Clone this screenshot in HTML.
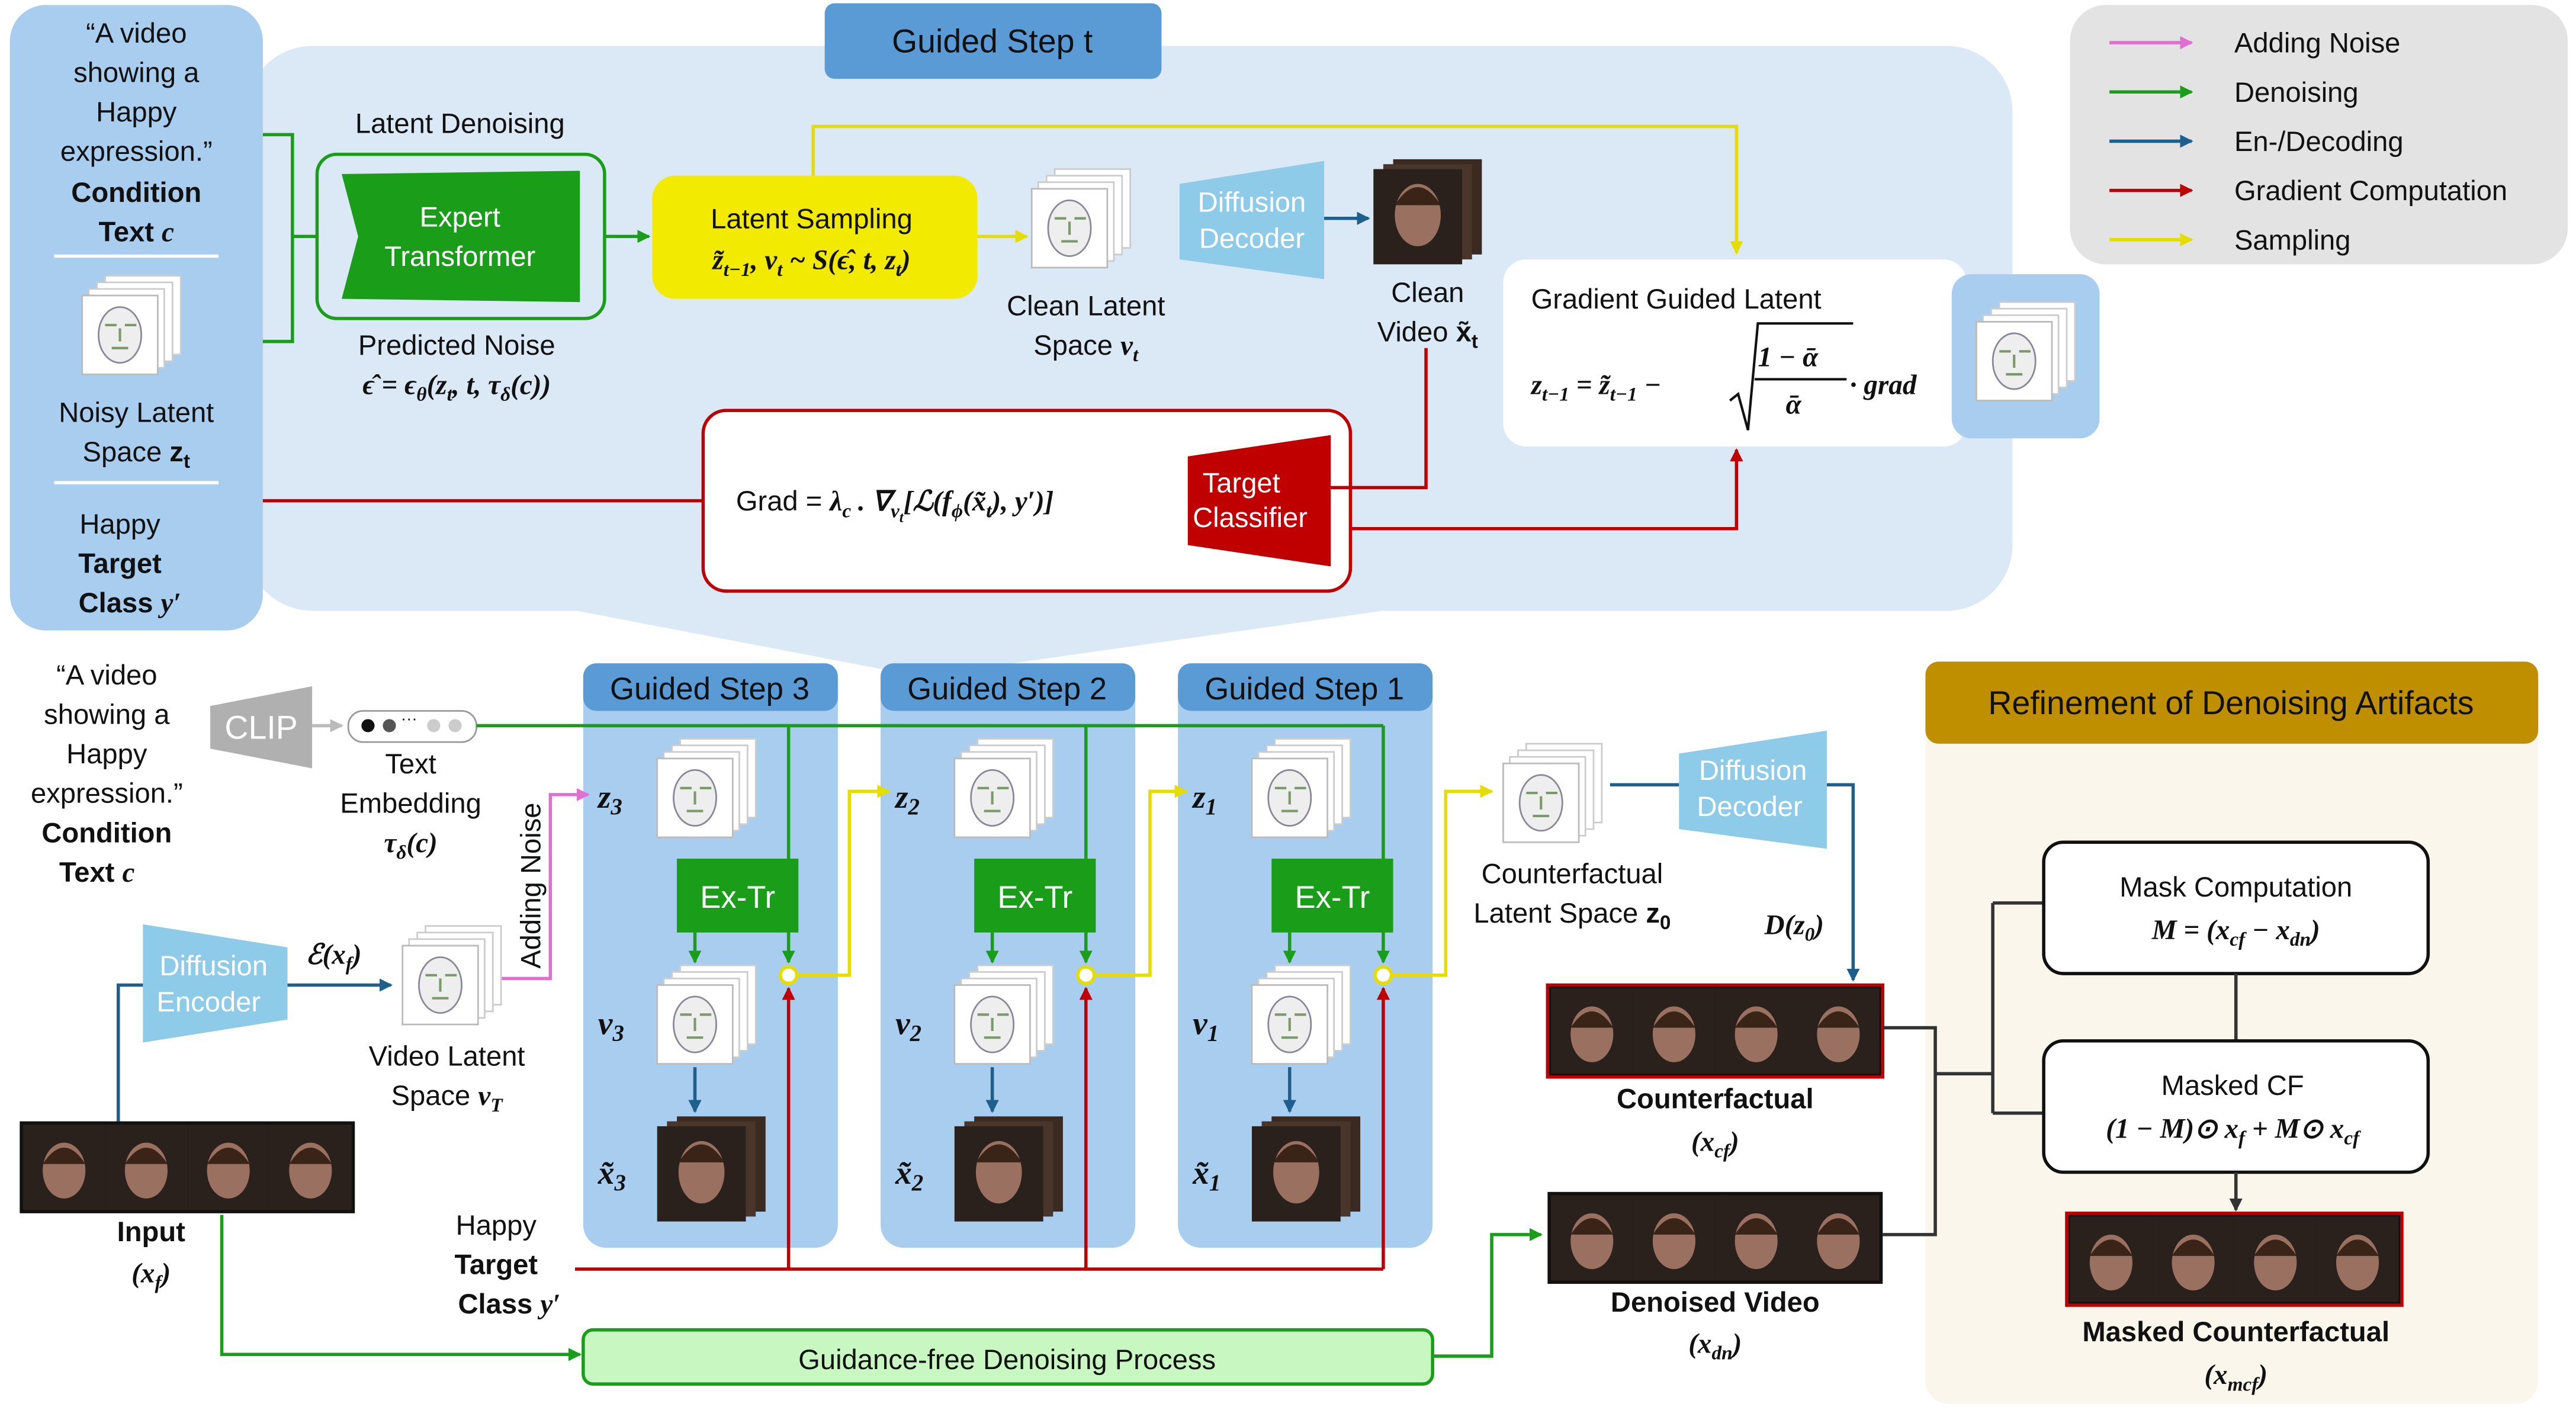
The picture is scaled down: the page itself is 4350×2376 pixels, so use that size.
<!DOCTYPE html>
<html><head><meta charset="utf-8"><style>
html,body{margin:0;padding:0;background:#fff;width:4350px;height:2376px;overflow:hidden}
svg{display:block}
text{font-family:"Liberation Sans",sans-serif;font-size:17px;fill:#111}
.m{font-family:"Liberation Serif",serif;font-style:italic;font-weight:bold}
.b{font-weight:bold}
.w{fill:#fff}
</style></head><body>
<svg width="4350" height="2376" viewBox="0 0 1568 857" preserveAspectRatio="none" xmlns="http://www.w3.org/2000/svg">
<defs>
<marker id="ag" markerWidth="8" markerHeight="8" refX="7" refY="4" orient="auto" markerUnits="userSpaceOnUse"><path d="M0,0L8,4L0,8z" fill="#1a9e1a"/></marker>
<marker id="ay" markerWidth="8" markerHeight="8" refX="7" refY="4" orient="auto" markerUnits="userSpaceOnUse"><path d="M0,0L8,4L0,8z" fill="#e6dc00"/></marker>
<marker id="ab" markerWidth="8" markerHeight="8" refX="7" refY="4" orient="auto" markerUnits="userSpaceOnUse"><path d="M0,0L8,4L0,8z" fill="#1f5f8b"/></marker>
<marker id="ar" markerWidth="8" markerHeight="8" refX="7" refY="4" orient="auto" markerUnits="userSpaceOnUse"><path d="M0,0L8,4L0,8z" fill="#c00000"/></marker>
<marker id="ap" markerWidth="8" markerHeight="8" refX="7" refY="4" orient="auto" markerUnits="userSpaceOnUse"><path d="M0,0L8,4L0,8z" fill="#e070d0"/></marker>
<marker id="ak" markerWidth="8" markerHeight="8" refX="7" refY="4" orient="auto" markerUnits="userSpaceOnUse"><path d="M0,0L8,4L0,8z" fill="#333"/></marker>
<marker id="aa" markerWidth="8" markerHeight="8" refX="7" refY="4" orient="auto" markerUnits="userSpaceOnUse"><path d="M0,0L8,4L0,8z" fill="#bbb"/></marker>
<g id="lat">
<rect x="14" y="0" width="46" height="48" fill="#fff" stroke="#ccc"/>
<rect x="9" y="4" width="46" height="48" fill="#fff" stroke="#ccc"/>
<rect x="4" y="8" width="46" height="48" fill="#fff" stroke="#ccc"/>
<rect x="0" y="12" width="46" height="48" fill="#fff" stroke="#bbb"/>
<ellipse cx="23" cy="36" rx="13" ry="17" fill="#eee" stroke="#889"/>
<path d="M14,30h7M26,30h7M18,44h10M23,32v8" stroke="#7a9a6a" stroke-width="1.5"/>
</g>
<g id="vid">
<rect x="12" y="0" width="54" height="58" fill="#3a2a22"/>
<rect x="6" y="3" width="54" height="58" fill="#4a352a"/>
<rect x="0" y="6" width="54" height="58" fill="#2a201c"/>
<ellipse cx="27" cy="34" rx="14" ry="19" fill="#9a7060"/>
<path d="M13,28q14-22 28,0" fill="#3a2418"/>
</g>
<g id="frame">
<rect x="0" y="0" width="50" height="52" fill="#2a201c"/>
<ellipse cx="25" cy="28" rx="13" ry="17" fill="#9a7060"/>
<path d="M12,24q13-20 26,0" fill="#3a2418"/>
</g>
<g id="strip">
<rect x="0" y="0" width="204" height="56" fill="#111"/>
<use href="#frame" x="2" y="2"/><use href="#frame" x="52" y="2"/><use href="#frame" x="102" y="2"/><use href="#frame" x="152" y="2"/>
</g>
</defs>

<!-- top panel -->
<rect x="150" y="28" width="1075" height="344" rx="40" fill="#dbe8f5"/>
<polygon points="330,368 870,368 560,412" fill="#dbe8f5"/>
<rect x="6" y="3" width="154" height="381" rx="22" fill="#a9cdef"/>
<rect x="502" y="2" width="205" height="46" rx="6" fill="#5b9bd5"/>
<text x="604" y="32" text-anchor="middle" style="font-size:20px">Guided Step t</text>

<!-- legend -->
<rect x="1260" y="3" width="303" height="158" rx="22" fill="#e3e3e3"/>
<line x1="1284" y1="26" x2="1334" y2="26" stroke="#e070d0" stroke-width="2" marker-end="url(#ap)"/>
<line x1="1284" y1="56" x2="1334" y2="56" stroke="#1a9e1a" stroke-width="2" marker-end="url(#ag)"/>
<line x1="1284" y1="86" x2="1334" y2="86" stroke="#1f5f8b" stroke-width="2" marker-end="url(#ab)"/>
<line x1="1284" y1="116" x2="1334" y2="116" stroke="#c00000" stroke-width="2" marker-end="url(#ar)"/>
<line x1="1284" y1="146" x2="1334" y2="146" stroke="#e6dc00" stroke-width="2" marker-end="url(#ay)"/>
<text x="1360" y="32">Adding Noise</text>
<text x="1360" y="62">Denoising</text>
<text x="1360" y="92">En-/Decoding</text>
<text x="1360" y="122">Gradient Computation</text>
<text x="1360" y="152">Sampling</text>

<!-- left panel text -->
<g text-anchor="middle">
<text x="83" y="26">“A video</text><text x="83" y="50">showing a</text><text x="83" y="74">Happy</text><text x="83" y="98">expression.”</text>
<text x="83" y="123" class="b">Condition</text><text x="83" y="147" class="b">Text <tspan class="m">c</tspan></text>
<text x="83" y="257">Noisy Latent</text><text x="83" y="281">Space <tspan class="b">z</tspan><tspan class="b" style="font-size:12px" dy="4">t</tspan></text>
<text x="73" y="325">Happy</text><text x="73" y="349" class="b">Target</text><text x="79" y="373" class="b">Class <tspan class="m">y′</tspan></text>
</g>
<line x1="33" y1="156" x2="133" y2="156" stroke="#fff" stroke-width="2"/>
<line x1="33" y1="294" x2="133" y2="294" stroke="#fff" stroke-width="2"/>
<use href="#lat" x="50" y="168"/>

<!-- expert transformer -->
<path d="M160,82H178V208H160M178,144H193" fill="none" stroke="#1a9e1a" stroke-width="2"/>
<text x="280" y="81" text-anchor="middle">Latent Denoising</text>
<rect x="193" y="94" width="175" height="100" rx="12" fill="none" stroke="#1a9e1a" stroke-width="2"/>
<path d="M208,106L353,104V184L208,182L218,144z" fill="#1a9e1a"/>
<text x="280" y="138" text-anchor="middle" class="w">Expert</text>
<text x="280" y="162" text-anchor="middle" class="w">Transformer</text>
<text x="278" y="216" text-anchor="middle">Predicted Noise</text>
<text x="278" y="240" text-anchor="middle" class="m">ϵ̂ = ϵ<tspan style="font-size:12px" dy="4">θ</tspan><tspan dy="-4">(z</tspan><tspan style="font-size:12px" dy="4">t</tspan><tspan dy="-4">, t, τ</tspan><tspan style="font-size:12px" dy="4">δ</tspan><tspan dy="-4">(c))</tspan></text>
<line x1="368" y1="144" x2="395" y2="144" stroke="#1a9e1a" stroke-width="2" marker-end="url(#ag)"/>

<!-- latent sampling -->
<rect x="397" y="107" width="198" height="75" rx="14" fill="#f2ea00"/>
<text x="494" y="139" text-anchor="middle">Latent Sampling</text>
<text x="494" y="164" text-anchor="middle" class="m">z̃<tspan style="font-size:12px" dy="4">t−1</tspan><tspan dy="-4">, v</tspan><tspan style="font-size:12px" dy="4">t</tspan><tspan dy="-4"> ~ S(ϵ̂, t, z</tspan><tspan style="font-size:12px" dy="4">t</tspan><tspan dy="-4">)</tspan></text>
<line x1="595" y1="144" x2="625" y2="144" stroke="#e6dc00" stroke-width="2" marker-end="url(#ay)"/>
<use href="#lat" x="628" y="103"/>
<text x="661" y="192" text-anchor="middle">Clean Latent</text>
<text x="661" y="216" text-anchor="middle">Space <tspan class="m">v</tspan><tspan class="m" style="font-size:12px" dy="4">t</tspan></text>
<polygon points="718,112 806,98 806,170 718,158" fill="#8ecbe8"/>
<text x="762" y="129" text-anchor="middle" class="w">Diffusion</text>
<text x="762" y="151" text-anchor="middle" class="w">Decoder</text>
<line x1="806" y1="133" x2="833" y2="133" stroke="#1f5f8b" stroke-width="2" marker-end="url(#ab)"/>
<use href="#vid" x="836" y="97"/>
<text x="869" y="184" text-anchor="middle">Clean</text>
<text x="869" y="208" text-anchor="middle">Video <tspan class="b">x̃</tspan><tspan class="b" style="font-size:12px" dy="4">t</tspan></text>
<path d="M495,107V77H1057V154" fill="none" stroke="#e6dc00" stroke-width="2" marker-end="url(#ay)"/>

<!-- gradient guided latent -->
<rect x="915" y="158" width="282" height="114" rx="14" fill="#fff"/>
<text x="932" y="188">Gradient Guided Latent</text>
<text x="932" y="240" class="m">z<tspan style="font-size:12px" dy="4">t−1</tspan><tspan dy="-4"> = z̃</tspan><tspan style="font-size:12px" dy="4">t−1</tspan><tspan dy="-4"> −</tspan></text>
<path d="M1053,244l5,-4l6,22l6,-65h58" fill="none" stroke="#111" stroke-width="1.5"/>
<text x="1070" y="223" class="m">1 − ᾱ</text>
<line x1="1068" y1="231" x2="1124" y2="231" stroke="#111" stroke-width="1.5"/>
<text x="1087" y="252" class="m">ᾱ</text>
<text x="1126" y="240" class="m">· grad</text>
<rect x="1188" y="167" width="90" height="100" rx="12" fill="#a9cdef"/>
<use href="#lat" x="1203" y="184"/>

<!-- grad box -->
<rect x="428" y="250" width="394" height="110" rx="14" fill="#fff" stroke="#c00000" stroke-width="2"/>
<text x="448" y="311">Grad = <tspan class="m">λ</tspan><tspan class="m" style="font-size:12px" dy="4">c</tspan><tspan class="m" dy="-4"> . ∇</tspan><tspan class="m" style="font-size:12px" dy="4">v</tspan><tspan class="m" style="font-size:9px" dy="3">t</tspan><tspan class="m" dy="-7">[ℒ(f</tspan><tspan class="m" style="font-size:12px" dy="4">ϕ</tspan><tspan class="m" dy="-4">(x̃</tspan><tspan class="m" style="font-size:12px" dy="4">t</tspan><tspan class="m" dy="-4">), y′)]</tspan></text>
<polygon points="723,278 810,265 810,345 723,332" fill="#c00000"/>
<text x="732" y="300" class="w">Target</text>
<text x="726" y="321" class="w">Classifier</text>
<line x1="160" y1="305" x2="428" y2="305" stroke="#c00000" stroke-width="2"/>
<path d="M868,212V297H810" fill="none" stroke="#c00000" stroke-width="2"/>
<path d="M822,322H1057V274" fill="none" stroke="#c00000" stroke-width="2" marker-end="url(#ar)"/>

<!-- bottom left -->
<g text-anchor="middle">
<text x="65" y="417">“A video</text><text x="65" y="441">showing a</text><text x="65" y="465">Happy</text><text x="65" y="489">expression.”</text>
<text x="65" y="513" class="b">Condition</text><text x="59" y="537" class="b">Text <tspan class="m">c</tspan></text>
</g>
<polygon points="128,430 190,418 190,468 128,456" fill="#b0b0b0"/>
<text x="159" y="450" text-anchor="middle" class="w" style="font-size:20px">CLIP</text>
<line x1="190" y1="442" x2="208" y2="442" stroke="#bbb" stroke-width="2" marker-end="url(#aa)"/>
<rect x="212" y="433" width="78" height="19" rx="9" fill="#fff" stroke="#999"/>
<circle cx="224" cy="442" r="4" fill="#111"/><circle cx="237" cy="442" r="4" fill="#555"/><text x="244" y="441" style="font-size:10px">···</text><circle cx="264" cy="442" r="4" fill="#ccc"/><circle cx="277" cy="442" r="4" fill="#ccc"/>
<text x="250" y="471" text-anchor="middle">Text</text>
<text x="250" y="495" text-anchor="middle">Embedding</text>
<text x="250" y="519" text-anchor="middle" class="m">τ<tspan style="font-size:12px" dy="4">δ</tspan><tspan dy="-4">(c)</tspan></text>

<!-- guided steps -->
<g id="step">
<rect x="355" y="405" width="155" height="355" rx="14" fill="#a9cdef"/>
<rect x="355" y="404" width="155" height="29" rx="8" fill="#5b9bd5"/>
<use href="#lat" x="400" y="450"/>
<rect x="412" y="523" width="74" height="45" fill="#1a9e1a"/>
<text x="449" y="553" text-anchor="middle" class="w" style="font-size:19px">Ex-Tr</text>
<line x1="423" y1="568" x2="423" y2="586" stroke="#1a9e1a" stroke-width="2" marker-end="url(#ag)"/>
<line x1="480" y1="442" x2="480" y2="586" stroke="#1a9e1a" stroke-width="2" marker-end="url(#ag)"/>
<use href="#lat" x="400" y="588"/>
<line x1="423" y1="650" x2="423" y2="677" stroke="#1f5f8b" stroke-width="2" marker-end="url(#ab)"/>
<use href="#vid" x="400" y="680"/>
<line x1="480" y1="773" x2="480" y2="602" stroke="#c00000" stroke-width="2" marker-end="url(#ar)"/>
<circle cx="480" cy="594" r="5" fill="#fff" stroke="#e6dc00" stroke-width="2"/>
</g>
<use href="#step" x="181"/>
<use href="#step" x="362"/>
<text x="432" y="426" text-anchor="middle" style="font-size:19px">Guided Step 3</text>
<text x="613" y="426" text-anchor="middle" style="font-size:19px">Guided Step 2</text>
<text x="794" y="426" text-anchor="middle" style="font-size:19px">Guided Step 1</text>
<g class="m" style="font-size:20px">
<text x="364" y="492" class="m" style="font-size:20px">z<tspan style="font-size:14px" dy="4">3</tspan></text>
<text x="545" y="492" class="m" style="font-size:20px">z<tspan style="font-size:14px" dy="4">2</tspan></text>
<text x="726" y="492" class="m" style="font-size:20px">z<tspan style="font-size:14px" dy="4">1</tspan></text>
<text x="364" y="630" class="m" style="font-size:20px">v<tspan style="font-size:14px" dy="4">3</tspan></text>
<text x="545" y="630" class="m" style="font-size:20px">v<tspan style="font-size:14px" dy="4">2</tspan></text>
<text x="726" y="630" class="m" style="font-size:20px">v<tspan style="font-size:14px" dy="4">1</tspan></text>
<text x="364" y="721" class="m" style="font-size:20px">x̃<tspan style="font-size:14px" dy="4">3</tspan></text>
<text x="545" y="721" class="m" style="font-size:20px">x̃<tspan style="font-size:14px" dy="4">2</tspan></text>
<text x="726" y="721" class="m" style="font-size:20px">x̃<tspan style="font-size:14px" dy="4">1</tspan></text>
</g>
<line x1="290" y1="442" x2="842" y2="442" stroke="#1a9e1a" stroke-width="2"/>
<path d="M485,594H517V482H541" fill="none" stroke="#e6dc00" stroke-width="2" marker-end="url(#ay)"/>
<path d="M666,594H700V482H722" fill="none" stroke="#e6dc00" stroke-width="2" marker-end="url(#ay)"/>
<path d="M847,594H880V482H908" fill="none" stroke="#e6dc00" stroke-width="2" marker-end="url(#ay)"/>
<line x1="350" y1="773" x2="842" y2="773" stroke="#c00000" stroke-width="2"/>
<text x="302" y="752" text-anchor="middle">Happy</text>
<text x="302" y="776" text-anchor="middle" class="b">Target</text>
<text x="310" y="800" text-anchor="middle" class="b">Class <tspan class="m">y′</tspan></text>

<!-- encoder -->
<path d="M305,596H335V484H358" fill="none" stroke="#e070d0" stroke-width="2" marker-end="url(#ap)"/>
<text transform="translate(329,590) rotate(-90)">Adding Noise</text>
<polygon points="87,563 175,577 175,621 87,635" fill="#8ecbe8"/>
<text x="130" y="594" text-anchor="middle" class="w">Diffusion</text>
<text x="127" y="616" text-anchor="middle" class="w">Encoder</text>
<path d="M72,683V600H87" fill="none" stroke="#1f5f8b" stroke-width="2"/>
<line x1="175" y1="600" x2="238" y2="600" stroke="#1f5f8b" stroke-width="2" marker-end="url(#ab)"/>
<text x="186" y="587" class="m">ℰ(x<tspan style="font-size:12px" dy="4">f</tspan><tspan dy="-4">)</tspan></text>
<use href="#lat" x="245" y="564"/>
<text x="272" y="649" text-anchor="middle">Video Latent</text>
<text x="272" y="673" text-anchor="middle">Space  <tspan class="m">v</tspan><tspan class="m" style="font-size:12px" dy="4">T</tspan></text>
<use href="#strip" x="12" y="683"/>
<text x="92" y="756" text-anchor="middle" class="b">Input</text>
<text x="92" y="781" text-anchor="middle" class="m">(x<tspan style="font-size:12px" dy="4">f</tspan><tspan dy="-4">)</tspan></text>
<path d="M135,740V825H353" fill="none" stroke="#1a9e1a" stroke-width="2" marker-end="url(#ag)"/>
<rect x="355" y="810" width="517" height="33" rx="6" fill="#c9f7c2" stroke="#1a9e1a" stroke-width="2"/>
<text x="613" y="834" text-anchor="middle">Guidance-free Denoising Process</text>
<path d="M872,826H908V752H938" fill="none" stroke="#1a9e1a" stroke-width="2" marker-end="url(#ag)"/>

<!-- counterfactual -->
<use href="#lat" x="915" y="453"/>
<line x1="980" y1="478" x2="1022" y2="478" stroke="#1f5f8b" stroke-width="2"/>
<polygon points="1022,459 1112,445 1112,517 1022,505" fill="#8ecbe8"/>
<text x="1067" y="475" text-anchor="middle" class="w">Diffusion</text>
<text x="1065" y="497" text-anchor="middle" class="w">Decoder</text>
<path d="M1112,478H1128V597" fill="none" stroke="#1f5f8b" stroke-width="2" marker-end="url(#ab)"/>
<text x="957" y="538" text-anchor="middle">Counterfactual</text>
<text x="957" y="562" text-anchor="middle">Latent Space <tspan class="b">z</tspan><tspan class="b" style="font-size:12px" dy="4">0</tspan></text>
<text x="1074" y="569" class="m">D(z<tspan style="font-size:12px" dy="4">0</tspan><tspan dy="-4">)</tspan></text>
<use href="#strip" x="942" y="600"/>
<rect x="942" y="600" width="204" height="56" fill="none" stroke="#c00000" stroke-width="2"/>
<text x="1044" y="675" text-anchor="middle" class="b">Counterfactual</text>
<text x="1044" y="701" text-anchor="middle" class="m">(x<tspan style="font-size:12px" dy="4">cf</tspan><tspan dy="-4">)</tspan></text>
<use href="#strip" x="942" y="726"/>
<text x="1044" y="799" text-anchor="middle" class="b">Denoised Video</text>
<text x="1044" y="824" text-anchor="middle" class="m">(x<tspan style="font-size:12px" dy="4">dn</tspan><tspan dy="-4">)</tspan></text>

<!-- refinement -->
<rect x="1172" y="403" width="373" height="452" rx="14" fill="#fbf6ec"/>
<rect x="1172" y="403" width="373" height="50" rx="8" fill="#bf8f00"/>
<text x="1358" y="435" text-anchor="middle" style="font-size:20px">Refinement of Denoising Artifacts</text>
<path d="M1146,626H1178V752H1146M1178,654H1213M1213,550V678M1213,550H1244M1213,678H1244" fill="none" stroke="#333" stroke-width="2"/>
<rect x="1244" y="513" width="234" height="80" rx="12" fill="#fff" stroke="#111" stroke-width="2"/>
<text x="1361" y="546" text-anchor="middle">Mask Computation</text>
<text x="1361" y="572" text-anchor="middle" class="m">M = (x<tspan style="font-size:12px" dy="4">cf</tspan><tspan dy="-4"> − x</tspan><tspan style="font-size:12px" dy="4">dn</tspan><tspan dy="-4">)</tspan></text>
<line x1="1361" y1="593" x2="1361" y2="634" stroke="#333" stroke-width="2"/>
<rect x="1244" y="634" width="234" height="80" rx="12" fill="#fff" stroke="#111" stroke-width="2"/>
<text x="1359" y="667" text-anchor="middle">Masked CF</text>
<text x="1359" y="693" text-anchor="middle" class="m">(1 − M)⊙ x<tspan style="font-size:12px" dy="4">f</tspan><tspan dy="-4"> + M⊙ x</tspan><tspan style="font-size:12px" dy="4">cf</tspan></text>
<line x1="1361" y1="714" x2="1361" y2="737" stroke="#333" stroke-width="2" marker-end="url(#ak)"/>
<use href="#strip" x="1258" y="739"/>
<rect x="1258" y="739" width="204" height="56" fill="none" stroke="#c00000" stroke-width="2"/>
<text x="1361" y="817" text-anchor="middle" class="b">Masked Counterfactual</text>
<text x="1361" y="843" text-anchor="middle" class="m">(x<tspan style="font-size:12px" dy="4">mcf</tspan><tspan dy="-4">)</tspan></text>
</svg>
</body></html>
